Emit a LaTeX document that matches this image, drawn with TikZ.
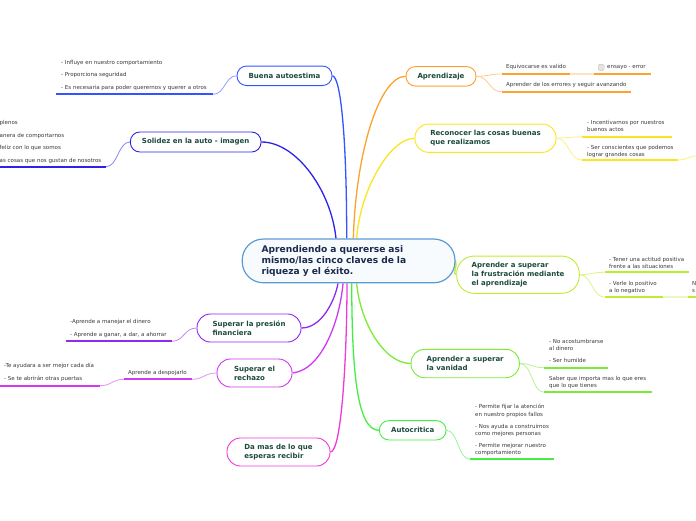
\documentclass[tikz,border=0pt]{standalone}
\usepackage{fontspec}
\setmainfont{DejaVu Sans}
\usetikzlibrary{calc}
\pgfdeclarelayer{bg}
\pgfsetlayers{bg,main}
\definecolor{cC}{HTML}{5B9BD5}
\definecolor{cCfill}{HTML}{F8FBFE}
\definecolor{cCtext}{HTML}{1A2B4C}
\definecolor{tText}{HTML}{1C4A3C}
\definecolor{sText}{HTML}{3A3A3A}
\definecolor{cBa}{HTML}{3355FF}
\definecolor{cBb}{HTML}{2D23E6}
\definecolor{cBc}{HTML}{8E2BEF}
\definecolor{cBd}{HTML}{D03AF0}
\definecolor{cBe}{HTML}{EE3BD8}
\definecolor{cRa}{HTML}{FBA22F}
\definecolor{cRb}{HTML}{F9E620}
\definecolor{cRc}{HTML}{BEEC30}
\definecolor{cRd}{HTML}{7CEB35}
\definecolor{cRe}{HTML}{44EE44}
\tikzset{
  topic/.style={draw=#1, line width=0.9pt, fill=white, rounded corners=9.5pt,
    font=\fontsize{7}{9}\selectfont\bfseries, text=tText, align=left, inner sep=0pt},
  central/.style={draw=cC, line width=1.2pt, fill=cCfill, rounded corners=21pt,
    font=\fontsize{9.1}{10.8}\selectfont\bfseries, text=cCtext, align=left,
    inner xsep=19.3pt, inner ysep=0pt, text width=174pt},
  sub/.style={font=\fontsize{5.5}{7}\selectfont, text=sText, inner sep=0pt, anchor=base west},
  link/.style={draw=#1, line width=1.3pt},
  twig/.style={draw=#1!55, line width=0.8pt},
  uline/.style={draw=#1, line width=1.8pt},
  pale/.style={draw=#1!30, line width=1.8pt},
}
\begin{document}
\begin{tikzpicture}[x=1pt,y=-1pt]
\useasboundingbox (0,0) rectangle (696,520);

% central
\node[central, minimum width=212.7pt, minimum height=43.7pt] (C) at (348.6,260.9)
  {Aprendiendo a quererse asi\\mismo/las cinco claves de la\\riqueza y el éxito.};

% left topics
\node[topic=cBa, minimum width=95pt, minimum height=19.5pt] (Ba) at (284.5,75.8) {Buena autoestima};
\node[topic=cBb, minimum width=130.7pt, minimum height=20pt] (Bb) at (195.7,142) {Solidez en la auto - imagen};
\node[topic=cBc, rounded corners=13.5pt, minimum width=104pt, minimum height=28pt] (Bc) at (249,328) {Superar la presión\\financiera};
\node[topic=cBd, rounded corners=13.5pt, minimum width=75pt, minimum height=28pt] (Bd) at (254.5,373) {Superar el\\rechazo};
\node[topic=cBe, rounded corners=13.5pt, minimum width=103pt, minimum height=28pt] (Be) at (278.5,452) {Da mas de lo que\\esperas recibir};

% right topics
\node[topic=cRa, minimum width=70pt, minimum height=19.5pt] (Ra) at (441,76.3) {Aprendizaje};
\node[topic=cRb, rounded corners=13.5pt, minimum width=141pt, minimum height=28.3pt] (Rb) at (485.5,138.2) {Reconocer las cosas buenas\\que realizamos};
\node[topic=cRc, rounded corners=17.5pt, minimum width=122.6pt, minimum height=37.3pt] (Rc) at (518,274.7) {Aprender a superar\\la frustración mediante\\el aprendizaje};
\node[topic=cRd, rounded corners=13.5pt, minimum width=108.3pt, minimum height=28.4pt] (Rd) at (465.2,363.5) {Aprender a superar\\la vanidad};
\node[topic=cRe, minimum width=66.7pt, minimum height=19.3pt] (Re) at (412.7,430.3) {Autocritica};

% ---------- sub texts ----------
% Buena autoestima
\node[sub] (ba1) at (61,64.2) {- Influye en nuestro comportamiento};
\node[sub] (ba2) at (61,76.9) {- Proporciona seguridad};
\node[sub] (ba3) at (61,89.9) {- Es necesaria para poder querernos y querer a otros};
% Solidez
\node[sub] (bb1) at (-0.5,124.4) {plenos};
\node[sub] (bb2) at (-0.5,137.2) {anera de comportarnos};
\node[sub] (bb3) at (-0.5,149.9) {feliz con lo que somos};
\node[sub] (bb4) at (-0.5,162.4) {as cosas que nos gustan de nosotros};
% Presion
\node[sub] (bc1) at (70,323.9) {-Aprende a manejar el dinero};
\node[sub] (bc2) at (70,336.6) {- Aprende a ganar, a dar, a ahorrar};
% Rechazo
\node[sub] (bd1) at (128,374.6) {Aprende a despojarlo};
\node[sub] (bd2) at (4,367.9) {-Te ayudara a ser mejor cada día};
\node[sub] (bd3) at (4,380.9) {- Se te abrirán otras puertas};
% Aprendizaje
\node[sub] (ra1) at (506,68.6) {Equivocarse es valido};
\node[draw=gray!45, fill=gray!22, rounded corners=1.2pt, minimum size=6pt, inner sep=0pt] (chk) at (601.2,67.3) {};
\node[sub] (ra2) at (607,68.6) {ensayo - error};
\node[sub] (ra3) at (506,86.6) {Aprender de los errores y seguir avanzando};
% Reconocer
\node[sub] (rb1) at (587,124.6) {- Incentivarnos por nuestros};
\node[sub] (rb2) at (587,131.6) {buenos actos};
\node[sub] (rb3) at (587,149.6) {- Ser conscientes que podemos};
\node[sub] (rb4) at (587,156.4) {lograr grandes cosas};
% Frustracion
\node[sub] (rc1) at (609,261.2) {- Tener una actitud positiva};
\node[sub] (rc2) at (609,268.2) {frente a las situaciones};
\node[sub] (rc3) at (609,285.4) {- Verle lo positivo};
\node[sub] (rc4) at (609,292.1) {a lo negativo};
\node[sub] (rc5) at (692,285.4) {N};
\node[sub] (rc6) at (692,292.1) {s};
% Vanidad
\node[sub] (rd1) at (549,343.9) {- No acostumbrarse};
\node[sub] (rd2) at (549,350.4) {al dinero};
\node[sub] (rd3) at (549,362.9) {- Ser humilde};
\node[sub] (rd4) at (549,380.9) {Saber que importa mas lo que eres};
\node[sub] (rd5) at (549,387.6) {que lo que tienes};
% Autocritica
\node[sub] (re1) at (475,408.6) {- Permite fijar la atención};
\node[sub] (re2) at (475,416.2) {en nuestro propios fallos};
\node[sub] (re3) at (475,428.2) {- Nos ayuda a construirnos};
\node[sub] (re4) at (475,435.2) {como mejores personas};
\node[sub] (re5) at (475,447.6) {- Permite mejorar nuestro};
\node[sub] (re6) at (475,454.6) {comportamiento};

% ---------- coordinates ----------
\coordinate (ua0) at (213,94.3);   \coordinate (ua1) at (56,94.3);
\coordinate (ub0) at (106,166.7);  \coordinate (ub1) at (-2,166.7);
\coordinate (uc0) at (172,341.3);  \coordinate (uc1) at (66,341.3);
\coordinate (ud0) at (192,379.3);  \coordinate (ud1) at (124,379.3);
\coordinate (ud2) at (100,385.7);  \coordinate (ud3) at (-2,385.7);
\coordinate (va0) at (501.5,74);   \coordinate (va1) at (570,74);
\coordinate (va2) at (594,74);     \coordinate (va3) at (651,74);
\coordinate (va4) at (501.5,91.7); \coordinate (va5) at (631,91.7);
\coordinate (vb0) at (581.7,136.7); \coordinate (vb1) at (671.7,136.7);
\coordinate (vb2) at (581.7,160);  \coordinate (vb3) at (678,160);
\coordinate (vb4) at (700,155.5);
\coordinate (vc0) at (604.5,272.3); \coordinate (vc1) at (689.3,272.3);
\coordinate (vc2) at (604.5,297);  \coordinate (vc3) at (663,297);
\coordinate (vc4) at (688,297);    \coordinate (vc5) at (700,297);
\coordinate (vd0) at (544.3,367.7); \coordinate (vd1) at (607.7,367.7);
\coordinate (vd2) at (544.3,392.3); \coordinate (vd3) at (651.7,392.3);
\coordinate (ve0) at (470,459.3);  \coordinate (ve1) at (554,459.3);

\begin{pgfonlayer}{bg}
\fill[white] (0,0) rectangle (696,520);
% main links
\draw[link=cBa] (Ba.east) .. controls (341,77) and (346.7,140) .. ($(C.north)+(-1.9,0)$);
\draw[link=cBb] (Bb.east) .. controls (296,142) and (331,190) .. ($(C.north)+(-12.6,0)$);
\draw[link=cRa] (Ra.west) .. controls (380,76.3) and (356,150) .. ($(C.north)+(4.7,0)$);
\draw[link=cRb] (Rb.west) .. controls (390,138.2) and (360,190) .. ($(C.north)+(8.1,0)$);
\draw[link=cRc] (C.east) .. controls (458,265) and (452,274.7) .. (Rc.west);
\draw[link=cRd] ($(C.south)+(8.1,0)$) .. controls (360,322) and (384,363.5) .. (Rd.west);
\draw[link=cRe] ($(C.south)+(3.1,0)$) .. controls (352,365) and (356,430.3) .. (Re.west);
\draw[link=cBc] (Bc.east) .. controls (322,328) and (335,300) .. ($(C.south)+(-10.6,0)$);
\draw[link=cBd] (Bd.east) .. controls (322,370) and (340,320) .. ($(C.south)+(-5.6,0)$);
\draw[link=cBe] (Be.east) .. controls (342,452) and (347,350) .. ($(C.south)+(-1.6,0)$);

% branch twigs and underlines
\draw[twig=cBa] (Ba.west) .. controls (225,75.8) and (225,94.3) .. (ua0);
\draw[uline=cBa] (ua0) -- (ua1);
\draw[twig=cBb] (Bb.west) .. controls (118,142) and (118,166.7) .. (ub0);
\draw[uline=cBb] (ub0) -- (ub1);
\draw[twig=cBc] (Bc.west) .. controls (184,328) and (184,341.3) .. (uc0);
\draw[uline=cBc] (uc0) -- (uc1);
\draw[twig=cBd] (Bd.west) .. controls (204,373) and (204,379.3) .. (ud0);
\draw[uline=cBd] (ud0) -- (ud1);
\draw[twig=cBd] (ud1) .. controls (112,379.3) and (112,385.7) .. (ud2);
\draw[uline=cBd] (ud2) -- (ud3);

\draw[twig=cRa] (Ra.east) .. controls (489,76.3) and (489,74) .. (va0);
\draw[uline=cRa] (va0) -- (va1);
\draw[pale=cRa] (va1) -- (va2);
\draw[uline=cRa] (va2) -- (va3);
\draw[twig=cRa] (Ra.east) .. controls (489,76.3) and (489,91.7) .. (va4);
\draw[uline=cRa] (va4) -- (va5);

\draw[twig=cRb] (Rb.east) .. controls (569,138.2) and (569,136.7) .. (vb0);
\draw[uline=cRb] (vb0) -- (vb1);
\draw[twig=cRb] (Rb.east) .. controls (569,138.2) and (569,160) .. (vb2);
\draw[uline=cRb] (vb2) -- (vb3);
\draw[twig=cRb] (vb3) .. controls (688,160) and (689,155.5) .. (vb4);

\draw[twig=cRc] (Rc.east) .. controls (592,274.7) and (592,272.3) .. (vc0);
\draw[uline=cRc] (vc0) -- (vc1);
\draw[twig=cRc] (Rc.east) .. controls (592,274.7) and (592,297) .. (vc2);
\draw[uline=cRc] (vc2) -- (vc3);
\draw[pale=cRc] (vc3) -- (vc4);
\draw[uline=cRc] (vc4) -- (vc5);

\draw[twig=cRd] (Rd.east) .. controls (532,363.5) and (532,367.7) .. (vd0);
\draw[uline=cRd] (vd0) -- (vd1);
\draw[twig=cRd] (Rd.east) .. controls (532,363.5) and (532,392.3) .. (vd2);
\draw[uline=cRd] (vd2) -- (vd3);

\draw[twig=cRe] (Re.east) .. controls (458,430.3) and (458,459.3) .. (ve0);
\draw[uline=cRe] (ve0) -- (ve1);
\end{pgfonlayer}
\end{tikzpicture}
\end{document}
